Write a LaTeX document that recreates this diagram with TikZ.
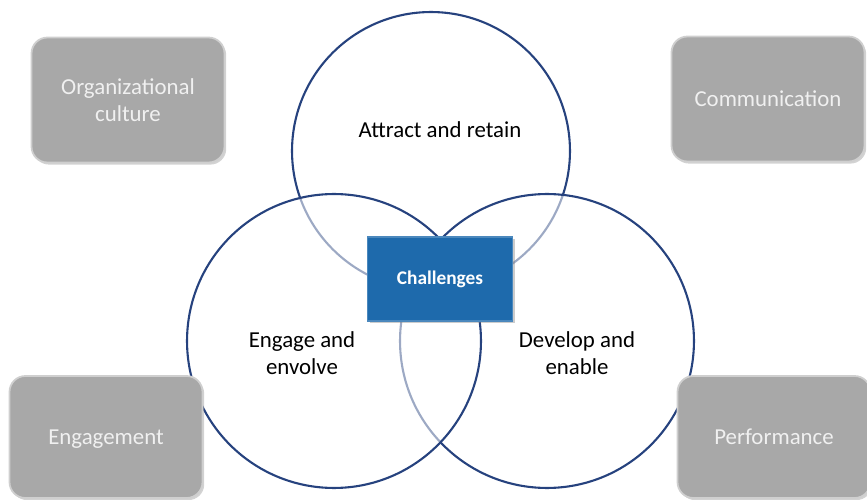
\documentclass[tikz,border=0pt]{standalone}
\usepackage{fontspec}
\setmainfont{Carlito}
\usetikzlibrary{shadows}

\definecolor{ringblue}{RGB}{38,66,126}
\definecolor{boxgray}{RGB}{168,168,168}
\definecolor{boxtext}{RGB}{240,240,240}
\definecolor{chalblue}{RGB}{30,106,172}

\tikzset{
    ring/.style={shape=circle,draw=ringblue,line width=1.2pt,fill=white,fill opacity=0.55,inner sep=0pt,outer sep=0pt},
    factor/.style={shape=rectangle,rounded corners=9pt,fill=boxgray,draw=boxgray!55!white,line width=1pt,
        text=boxtext,align=center,font=\fontsize{13}{15.5}\selectfont,minimum width=3.86cm,minimum height=2.5cm,
        drop shadow={opacity=0.35,shadow xshift=1pt,shadow yshift=-1.2pt}},
    oneline/.style={text height=11pt,text depth=2.6pt},
    challenge/.style={shape=rectangle,fill=chalblue,draw=chalblue!80!white,line width=0.8pt,text=white,
        font=\fontsize{11}{13}\selectfont\bfseries,minimum width=2.9cm,minimum height=1.68cm,
        drop shadow={opacity=0.4,shadow xshift=1.2pt,shadow yshift=-1.2pt}},
    area/.style={align=center,font=\fontsize{13}{15}\selectfont}
}

\begin{document}
\begin{tikzpicture}[x=0.02cm,y=-0.02cm]
        \useasboundingbox (0,0) rectangle (867,500);
        % three overlapping rings, the last one drawn lies on top
        \node[ring,minimum size=5.56cm](attract) at (431,151) {};
        \node[ring,minimum size=5.88cm](develop) at (547,341) {};
        \node[ring,minimum size=5.88cm](engage) at (334,341) {};
        % texts of the rings
        \node[area](attracttxt) at (440,130) {Attract and retain};
        \node[area](engagetxt) at (302,353) {Engage and\\envolve};
        \node[area](developtxt) at (577,353) {Develop and\\enable};
        % centre box
        \node[challenge](chal) at (440,279) {Challenges};
        % grey boxes in the corners
        \node[factor](culture) at (128,100) {Organizational\\culture};
        \node[factor,oneline](comm) at (768,99) {Communication};
        \node[factor,oneline,minimum height=2.44cm](engagement) at (106,437) {Engagement};
        \node[factor,oneline,minimum height=2.44cm](perf) at (774,437) {Performance};
\end{tikzpicture}
\end{document}
